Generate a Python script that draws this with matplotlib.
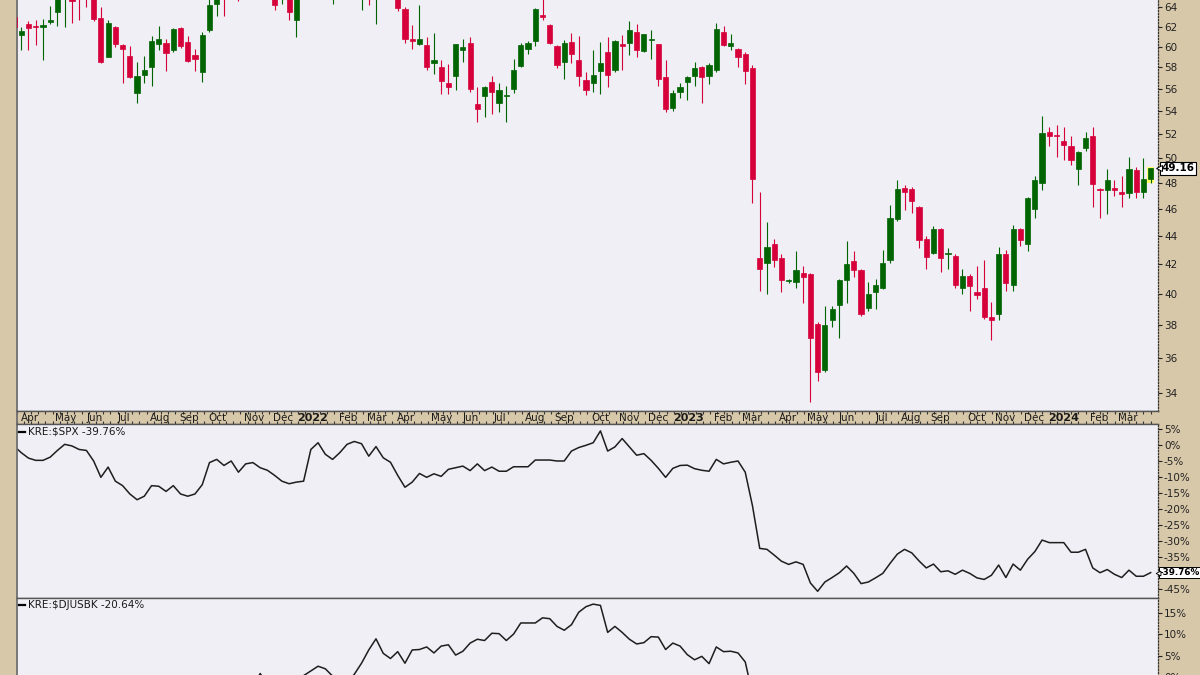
import numpy as np
import pandas as pd
import matplotlib
matplotlib.use('Agg')
import matplotlib.pyplot as plt
from matplotlib.patches import Rectangle
from matplotlib.lines import Line2D
from matplotlib.ticker import NullLocator
import matplotlib.transforms as mtransforms

# KRE weekly candles, oldest first (week ending 2021-03-26 .. 2024-03-29)
opens = [63.0, 61.2, 62.3, 62.1, 62.0, 62.5, 63.5, 66.0, 65.2, 67.0,
         67.0, 66.5, 62.9, 59.0, 62.0, 60.2, 59.1, 55.6, 57.3, 58.0,
         60.3, 60.4, 59.7, 61.9, 60.5, 59.2, 57.6, 61.7, 64.4, 67.0,
         66.5, 68.0, 67.0, 69.0, 70.0, 69.5, 68.5, 65.5, 67.0, 62.7,
         66.6, 71.0, 76.0, 76.5, 70.0, 71.5, 73.5, 72.0, 67.0, 69.0,
         65.0, 66.0, 67.8, 66.0, 63.8, 60.8, 60.3, 60.2, 58.4, 58.0,
         56.5, 57.2, 59.7, 60.4, 54.6, 55.3, 56.6, 54.7, 55.35, 56.0,
         58.1, 59.8, 60.6, 63.2, 62.2, 60.1, 58.5, 60.5, 58.7, 56.8,
         56.5, 57.7, 59.5, 57.8, 60.3, 60.4, 61.5, 59.6, 60.65, 60.3,
         57.1, 54.3, 55.7, 56.6, 57.2, 58.0, 57.2, 57.8, 61.5, 60.1,
         59.8, 59.3, 57.9, 42.4, 42.1, 43.4, 42.4, 40.85, 40.8, 41.4,
         41.3, 38.1, 35.3, 38.3, 39.3, 40.9, 42.2, 41.6, 39.1, 40.1,
         40.4, 42.3, 45.2, 47.6, 47.5, 46.1, 43.8, 42.8, 44.5, 42.7,
         42.6, 40.4, 41.2, 40.1, 40.4, 38.5, 38.7, 42.7, 40.6, 44.5,
         43.4, 46.0, 48.0, 52.2, 51.95, 51.4, 51.0, 49.1, 50.8, 51.8,
         47.5, 47.4, 47.6, 47.3, 47.2, 49.0, 47.3, 48.3]
highs = [63.3, 62.0, 62.6, 62.7, 62.8, 64.2, 66.5, 68.0, 66.0, 67.5,
         67.5, 67.0, 64.0, 62.7, 62.1, 60.3, 60.1, 58.5, 59.1, 61.1,
         62.1, 60.8, 61.9, 62.0, 61.1, 59.8, 61.5, 65.0, 66.5, 67.5,
         68.5, 68.5, 69.5, 71.0, 71.0, 70.0, 69.0, 67.5, 67.5, 67.0,
         71.2, 76.5, 77.8, 77.0, 72.0, 74.0, 75.0, 73.0, 70.5, 70.0,
         67.0, 68.5, 68.0, 66.5, 64.0, 62.2, 64.3, 61.0, 61.4, 58.7,
         58.3, 60.3, 60.8, 61.0, 56.2, 56.3, 57.2, 56.5, 56.3, 58.8,
         60.4, 60.6, 63.9, 65.5, 62.3, 60.2, 60.7, 61.4, 61.1, 57.6,
         59.7, 60.5, 61.0, 60.7, 61.2, 62.6, 62.3, 61.3, 61.7, 60.3,
         58.7, 55.9, 56.5, 57.2, 58.5, 58.1, 58.4, 62.4, 62.1, 61.3,
         59.9, 59.5, 58.2, 47.3, 45.0, 43.8, 42.7, 41.0, 42.9, 41.9,
         41.4, 38.2, 39.2, 39.2, 41.0, 43.6, 42.9, 41.7, 40.8, 41.0,
         43.0, 46.3, 48.2, 47.8, 47.7, 46.2, 44.0, 44.7, 44.6, 43.1,
         42.7, 41.7, 41.3, 41.9, 42.3, 39.5, 43.2, 43.0, 44.8, 44.6,
         46.9, 48.5, 53.6, 52.6, 52.8, 52.6, 51.8, 50.6, 52.2, 52.6,
         47.6, 49.1, 48.2, 48.5, 50.1, 49.3, 50.0, 49.2]
lows = [61.8, 59.7, 59.7, 60.2, 58.7, 62.3, 62.1, 62.0, 62.4, 62.7,
        64.0, 62.6, 58.4, 59.0, 60.0, 56.5, 57.0, 54.7, 56.5, 56.3,
        59.7, 57.7, 59.5, 59.9, 58.5, 57.7, 56.6, 61.5, 63.1, 63.1,
        65.5, 64.7, 66.0, 68.0, 68.5, 66.5, 63.7, 64.4, 62.7, 61.0,
        66.0, 70.5, 74.5, 70.5, 64.4, 70.0, 72.0, 68.0, 63.7, 64.3,
        62.3, 65.3, 65.2, 63.6, 60.4, 59.8, 60.2, 57.8, 57.4, 55.5,
        55.5, 55.9, 58.5, 55.7, 53.0, 53.5, 53.7, 53.9, 53.0, 55.6,
        58.0, 59.3, 60.1, 62.7, 60.3, 57.9, 56.9, 58.4, 56.3, 55.4,
        55.7, 55.5, 56.2, 57.6, 57.8, 59.2, 59.0, 59.5, 58.8, 56.3,
        53.9, 54.0, 55.2, 55.0, 56.3, 54.7, 56.4, 57.6, 60.1, 59.7,
        58.0, 56.4, 46.4, 40.2, 40.0, 41.8, 40.1, 40.7, 40.4, 39.4,
        33.5, 34.7, 35.2, 37.9, 37.2, 39.4, 41.1, 38.6, 38.9, 39.0,
        40.3, 42.1, 45.1, 45.9, 45.7, 43.1, 41.7, 42.7, 41.5, 41.7,
        40.4, 40.0, 38.9, 39.7, 38.4, 37.1, 38.3, 40.2, 40.2, 43.3,
        42.9, 45.3, 47.4, 51.0, 50.1, 49.8, 49.4, 47.8, 50.6, 46.1,
        45.3, 45.6, 47.0, 46.1, 46.8, 46.8, 46.8, 48.0]
closes = [62.0, 61.6, 61.9, 62.0, 62.2, 62.7, 66.0, 67.5, 64.7, 66.0,
          66.5, 62.8, 58.5, 62.4, 60.3, 59.8, 57.1, 57.2, 57.8, 60.6,
          60.8, 59.4, 61.8, 60.1, 58.6, 58.8, 61.2, 64.3, 66.0, 66.0,
          68.0, 67.0, 69.0, 70.0, 69.5, 68.5, 64.3, 67.0, 63.5, 66.5,
          70.8, 76.0, 76.5, 71.2, 71.5, 73.5, 74.5, 69.5, 69.0, 65.5,
          66.0, 67.8, 66.0, 63.9, 60.8, 60.6, 60.8, 58.0, 58.7, 56.7,
          56.2, 60.3, 60.0, 56.0, 54.2, 56.2, 55.7, 55.9, 55.45, 57.8,
          60.2, 60.4, 63.8, 63.0, 60.4, 58.2, 60.4, 59.3, 57.2, 55.9,
          57.3, 58.4, 57.3, 60.6, 60.1, 61.7, 59.7, 61.3, 60.75, 56.9,
          54.2, 55.6, 56.2, 57.1, 57.9, 57.1, 58.2, 61.8, 60.2, 60.4,
          59.0, 57.7, 48.3, 41.7, 43.2, 42.3, 40.9, 40.95, 41.6, 41.1,
          37.2, 35.2, 38.0, 39.0, 40.9, 42.0, 41.6, 38.7, 40.0, 40.6,
          42.1, 45.3, 47.5, 47.3, 46.6, 43.7, 42.5, 44.5, 42.4, 42.8,
          40.6, 41.2, 40.5, 39.9, 38.5, 38.3, 42.7, 40.7, 44.5, 43.7,
          46.8, 48.2, 52.1, 51.8, 51.8, 51.1, 49.8, 50.5, 51.7, 47.9,
          47.4, 48.2, 47.4, 47.1, 49.1, 47.3, 48.3, 49.16]

# relative performance lines (%)
rs_spx = [-0.2, -2.3, -4.0, -4.7, -4.7, -3.7, -1.6, 0.3, -0.2, -1.3,
          -1.6, -4.9, -10.0, -6.8, -11.2, -12.6, -15.2, -17.0, -15.9, -12.6,
          -12.8, -14.4, -12.6, -15.2, -15.9, -15.2, -12.3, -5.4, -4.4, -6.3,
          -4.9, -8.4, -5.8, -5.4, -7.0, -7.8, -9.4, -11.2, -12.0, -11.5,
          -11.2, -1.3, 0.8, -2.8, -4.4, -2.3, 0.3, 1.2, 0.5, -3.4,
          -0.4, -3.9, -5.3, -9.4, -13.1, -11.5, -8.8, -10.0, -8.9, -9.7,
          -7.5, -7.0, -6.5, -7.9, -5.8, -7.9, -6.8, -8.1, -8.1, -6.7,
          -6.7, -6.7, -4.6, -4.6, -4.6, -4.9, -4.9, -1.8, -0.7, 0.0,
          0.8, 4.5, -1.8, -0.5, 2.1, -0.5, -3.1, -2.6, -4.7, -7.2,
          -10.0, -7.2, -6.3, -6.2, -7.3, -7.8, -8.1, -4.4, -5.8, -5.3,
          -4.9, -8.4, -18.9, -32.2, -32.5, -34.3, -36.2, -37.2, -36.4, -37.2,
          -43.0, -45.6, -42.7, -41.3, -39.8, -37.7, -40.0, -43.2, -42.7, -41.4,
          -40.0, -36.9, -34.0, -32.5, -33.6, -36.1, -38.3, -37.1, -39.5, -39.2,
          -40.3, -39.0, -40.0, -41.4, -41.9, -40.6, -37.4, -41.3, -37.1, -39.0,
          -35.6, -33.2, -29.6, -30.4, -30.4, -30.4, -33.4, -33.4, -32.5, -38.3,
          -39.8, -38.8, -40.3, -41.3, -39.0, -40.9, -40.9, -39.76]
rs_bank = [0.0, -1.2, -2.5, -3.0, -3.4, -2.8, -1.5, -0.8, -1.8, -2.6,
           -3.1, -5.5, -9.0, -6.5, -9.8, -10.5, -12.0, -13.2, -12.4, -10.1,
           -10.5, -11.6, -10.0, -11.8, -12.5, -12.0, -9.6, -5.0, -4.2, -5.5,
           -4.0, -6.2, -3.8, -2.5, 0.8, -1.8, -3.0, -4.2, -4.8, -3.0,
           0.3, 1.4, 2.5, 1.9, 0.2, -1.0, -1.4, 0.6, 3.2, 6.3,
           8.9, 5.5, 4.3, 5.9, 3.2, 6.3, 6.4, 7.0, 5.6, 7.2,
           7.5, 5.1, 6.0, 7.9, 8.8, 8.5, 10.2, 10.1, 8.5, 10.0,
           12.6, 12.6, 12.6, 13.8, 13.6, 11.8, 10.9, 12.2, 15.1, 16.4,
           17.0, 16.7, 10.4, 11.8, 10.4, 8.8, 7.7, 8.0, 9.4, 9.3,
           6.4, 7.9, 7.2, 5.2, 4.0, 4.8, 3.1, 7.0, 5.9, 6.0,
           5.6, 3.5, -4.0, -14.5, -13.8, -15.2, -16.8, -17.5, -16.9, -17.6,
           -22.5, -24.8, -22.3, -21.2, -19.9, -18.1, -20.0, -22.7, -22.2, -21.1,
           -19.9, -17.3, -14.9, -13.6, -14.5, -16.6, -18.4, -17.4, -19.4, -19.2,
           -20.1, -19.0, -19.9, -21.0, -21.4, -20.3, -17.6, -20.9, -17.4, -19.0,
           -16.2, -14.2, -11.2, -11.9, -12.0, -12.1, -14.6, -14.5, -13.8, -18.6,
           -19.8, -19.0, -20.2, -21.1, -19.2, -20.8, -20.9, -20.64]

price_ticks = [34, 36, 38, 40, 42, 44, 46, 48, 50, 52, 54, 56, 58, 60, 62, 64]
spx_ticks = [5, 0, -5, -10, -15, -20, -25, -30, -35, -40, -45]
bank_ticks = [15, 10, 5, 0]

n = len(closes)
dates = pd.date_range(end='2024-03-29', periods=n, freq='W-FRI')
x = np.arange(n)
o = np.array(opens); h = np.array(highs); l = np.array(lows); c = np.array(closes)

TAN = '#D8C8AA'
BG = '#EFEFF5'
GREEN = '#006400'
RED = '#D6003A'
EDGE = '#555555'

W, H = 1200, 675
fig = plt.figure(figsize=(12, 6.75), dpi=100, facecolor=TAN)

def box(x0, y0, x1, y1):
    # pixel box (top-left origin) -> figure fraction rect
    return [x0 / W, 1 - y1 / H, (x1 - x0) / W, (y1 - y0) / H]

XL, XR = 16.5, 1157.7
xlim = ((XL - 14.0) / 7.24, (XR - 14.0) / 7.24)

ax1 = fig.add_axes(box(XL, -100, XR, 410.7), facecolor=BG)
axd = fig.add_axes(box(XL, 410.7, XR, 423.5), facecolor=TAN)
ax2 = fig.add_axes(box(XL, 423.5, XR, 597.7), facecolor=BG)
ax3 = fig.add_axes(box(XL, 597.7, XR, 760), facecolor=BG)

for ax in (ax1, axd, ax2, ax3):
    ax.set_xlim(*xlim)
    ax.tick_params(axis='x', bottom=False, labelbottom=False)
    ax.spines['top'].set_color(EDGE)
    ax.spines['top'].set_linewidth(1.0)
    ax.spines['left'].set_color('#707070')
    ax.spines['left'].set_linewidth(1.3)
    ax.spines['bottom'].set_color(EDGE)
    ax.spines['bottom'].set_linewidth(1.0)
    ax.spines['right'].set_color('#333333')
    ax.spines['right'].set_linestyle((0, (1, 1.5)))
    ax.spines['right'].set_linewidth(0.9)

# candles
up = c >= o
cols = np.where(up, GREEN, RED)
ax1.set_yscale('log')
ax1.set_ylim(33.03, 76.33)
ax1.add_patch(Rectangle((156.45, 47.95), 1.0, 1.28, facecolor='#FFFF66', edgecolor='none', zorder=1))
ax1.vlines(x, l, h, colors=cols, linewidth=0.8, zorder=2)
ax1.bar(x, np.abs(c - o), bottom=np.minimum(o, c), width=0.72, color=cols,
        edgecolor=cols, linewidth=0.5, zorder=3)
ax1.yaxis.tick_right()
ax1.set_yticks(price_ticks)
ax1.set_yticklabels([str(t) for t in price_ticks])
ax1.yaxis.set_minor_locator(NullLocator())
ax1.tick_params(axis='y', direction='out', length=3, width=0.8, pad=1.5,
                labelsize=7.5, colors='#222222')

tr1 = mtransforms.blended_transform_factory(ax1.transAxes, ax1.transData)
ax1.text(1.0035, c[-1], f'{c[-1]:.2f}', transform=tr1, ha='left', va='center',
         fontsize=7.5, fontweight='bold', color='black', zorder=6,
         bbox=dict(boxstyle='square,pad=0.15', facecolor='white', edgecolor='black', linewidth=0.8))
ax1.plot([1.0015], [c[-1]], marker='<', markersize=4, markerfacecolor='white',
         markeredgecolor='black', markeredgewidth=0.7, transform=tr1, clip_on=False, zorder=7)

# date strip
axd.set_yticks([])
axd.set_xticks([])
axd.set_xticks(x, minor=True)
axd.tick_params(axis='x', which='minor', top=True, bottom=True, direction='in',
                length=2, width=0.8, color='#333333')
axd.spines['right'].set_visible(False)
trd = mtransforms.blended_transform_factory(axd.transData, axd.transAxes)
for i in range(1, n):
    if dates[i].month != dates[i - 1].month:
        if dates[i].month == 1:
            axd.text(i, 0.45, str(dates[i].year), transform=trd, ha='center', va='center',
                     fontsize=8, fontweight='bold', color='#1a1a1a')
        else:
            axd.text(i + 0.85, 0.45, dates[i].strftime('%b'), transform=trd, ha='center',
                     va='center', fontsize=7.5, color='#1a1a1a')

# relative strength panels
ax2.plot(x, rs_spx, color='#1e1e1e', linewidth=1.1)
ax2.set_ylim(-47.6, 6.81)
ax2.yaxis.tick_right()
ax2.set_yticks(spx_ticks)
# last value box covers the -40% label
ax2.set_yticklabels(['' if t == -40 else f'{t}%' for t in spx_ticks])
ax2.tick_params(axis='y', direction='out', length=3, width=0.8, pad=1.5,
                labelsize=7.5, colors='#222222')
tr2 = mtransforms.blended_transform_factory(ax2.transAxes, ax2.transData)
ax2.text(1.0016, rs_spx[-1], f'{rs_spx[-1]:.2f}%', transform=tr2, ha='left', va='center',
         fontsize=6.3, fontweight='bold', color='black', zorder=6,
         bbox=dict(boxstyle='square,pad=0.1', facecolor='white', edgecolor='black', linewidth=0.7))
ax2.plot([1.0006], [rs_spx[-1]], marker='<', markersize=3.5, markerfacecolor='white',
         markeredgecolor='black', markeredgewidth=0.6, transform=tr2, clip_on=False, zorder=7)

ax3.plot(x, rs_bank, color='#1e1e1e', linewidth=1.1)
ax3.set_ylim(-19.4, 18.5)
ax3.yaxis.tick_right()
ax3.set_yticks(bank_ticks)
ax3.set_yticklabels([f'{t}%' for t in bank_ticks])
ax3.tick_params(axis='y', direction='out', length=3, width=0.8, pad=1.5,
                labelsize=7.5, colors='#222222')

# panel labels
for ypix, label in ((432, f'KRE:$SPX {rs_spx[-1]:.2f}%'), (605, f'KRE:$DJUSBK {rs_bank[-1]:.2f}%')):
    fig.add_artist(Line2D([19 / W, 25 / W], [1 - ypix / H] * 2, color='black', linewidth=1.6))
    fig.text(28 / W, 1 - ypix / H, label, fontsize=7.5, color='#1a1a1a', va='center')

fig.savefig('out.png', dpi=100, facecolor=TAN)
